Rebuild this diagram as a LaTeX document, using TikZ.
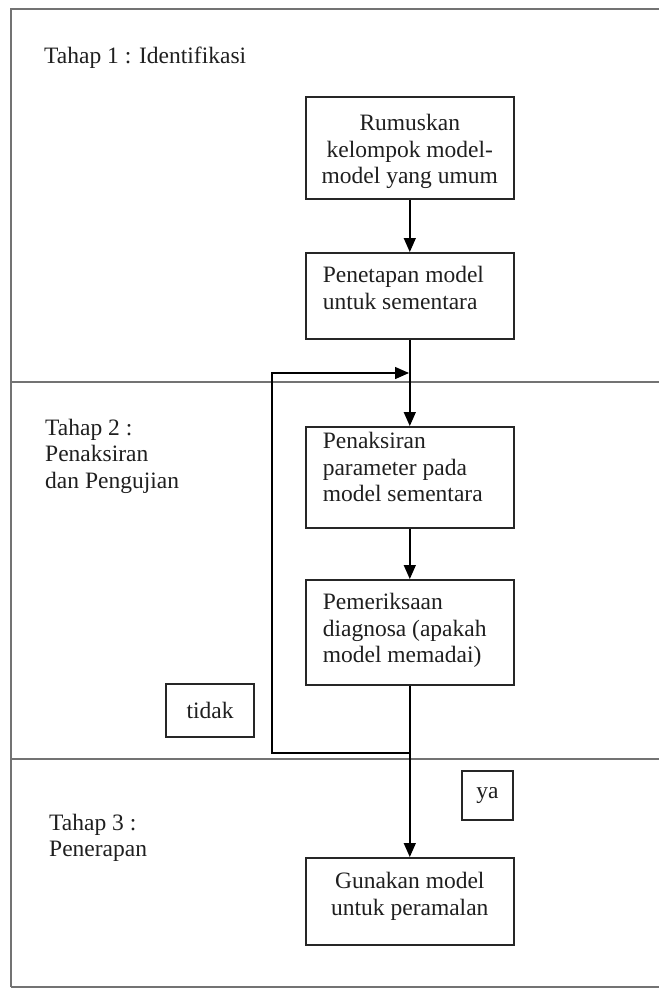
\documentclass[tikz,border=0pt]{standalone}
\usepackage{fontspec}
\setmainfont{Liberation Serif}
\usetikzlibrary{arrows.meta}
\newcommand{\boxtxt}[5]{\parbox[t][#2pt][t]{#1pt}{\vspace*{#3pt}#4\strut #5}}
\begin{document}
\begin{tikzpicture}[x=1pt,y=-1pt,
  every node/.style={font=\fontsize{23.5}{26.5}\selectfont, text=black!88},
  frame/.style={draw=black!55, line width=2.4pt},
  boxstyle/.style={draw=black!85, line width=1.6pt, inner sep=0pt, anchor=north west},
  smallbox/.style={draw=black!85, line width=1.6pt, inner sep=0pt},
  conn/.style={draw=black, line width=1.4pt},
  arr/.style={conn, -{Triangle[length=14pt,width=12pt]}},
  lbl/.style={anchor=north west, inner sep=0pt, align=left}
]
\useasboundingbox (0,0) rectangle (659,988);
% frame and stage dividers
\draw[frame] (11,987) -- (11,9) -- (659,9);
\draw[frame] (11,987) -- (659,987);
\draw[frame] (11,382) -- (659,382);
\draw[frame] (11,759) -- (659,759);

% stage labels
\node[lbl] (t1) at (44,44.45) {\strut Tahap 1 : Identifikasi};
\node[lbl] (t2) at (45,416.45) {\strut Tahap 2 :\\Penaksiran\\dan Pengujian};
\node[lbl] (t3) at (49,811.45) {\strut Tahap 3 :\\Penerapan};

% process boxes
\node[boxstyle] (b1) at (305,96) {\boxtxt{208}{102}{15.45}{\centering}{Rumuskan\\kelompok model-\\model yang umum}};
\node[boxstyle] (b2) at (305,252) {\boxtxt{208}{86}{11.45}{\raggedright\leftskip=17pt}{Penetapan model\\untuk sementara}};
\node[boxstyle] (b3) at (305,426) {\boxtxt{208}{101}{3.45}{\raggedright\leftskip=17pt}{Penaksiran\\parameter pada\\model sementara}};
\node[boxstyle] (b4) at (305,579) {\boxtxt{208}{105}{11.45}{\raggedright\leftskip=17pt}{Pemeriksaan\\diagnosa (apakah\\model memadai)}};
\node[boxstyle] (b5) at (305,857) {\boxtxt{208}{87}{12.45}{\centering}{Gunakan model\\untuk peramalan}};

% decision labels
\node[smallbox, minimum width=88pt, minimum height=53pt] (tidak) at (210,710.5) {tidak};
\node[smallbox, minimum width=51pt, minimum height=49pt] (ya) at (487.5,795.5) {ya};

% connectors
\draw[arr] (b1.south) -- (b2.north);
\draw[arr] (b2.south) -- (b3.north);
\draw[arr] (b3.south) -- (b4.north);
\draw[arr] (b4.south) -- (b5.north);
\coordinate (fbB) at (409,753);
\coordinate (fbL) at (272,753);
\coordinate (fbT) at (272,373);
\coordinate (fbE) at (409,373);
\draw[arr] (fbB) -- (fbL) -- (fbT) -- (fbE);
\end{tikzpicture}
\end{document}
